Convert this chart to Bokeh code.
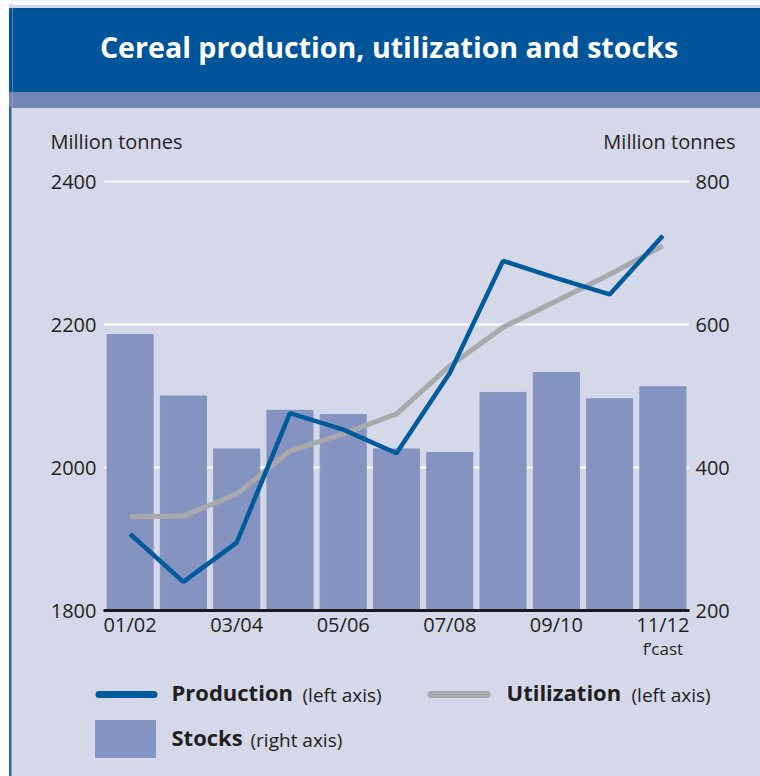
from bokeh.plotting import figure
from bokeh.models import Range1d, LinearAxis, FixedTicker
from bokeh.layouts import column, row
from bokeh.embed import file_html
from bokeh.resources import INLINE
from bokeh.core.properties import value

# ---------------- data ----------------
seasons = ["01/02", "02/03", "03/04", "04/05", "05/06", "06/07",
           "07/08", "08/09", "09/10", "10/11", "11/12"]
production = [1907, 1840, 1895, 2076, 2053, 2020, 2132, 2289, 2265, 2242, 2324]
utilization = [1931, 1932, 1963, 2023, 2047, 2075, 2142, 2196, 2233, 2270, 2310]
stocks = [586, 500, 426, 480, 474, 426, 421, 505, 533, 496, 513]
left_ticks = [1800, 2000, 2200, 2400]
right_ticks = [200, 400, 600, 800]
x_tick_labels = ["01/02", "03/04", "05/06", "07/08", "09/10", "11/12"]
forecast_note = "f\u2019cast"
title_text = "Cereal production, utilization and stocks"
axis_unit = "Million tonnes"
legend_names = ["Production", "Utilization", "Stocks"]
legend_notes = ["(left axis)", "(left axis)", "(right axis)"]

# ---------------- style ----------------
FONT = "Open Sans"
TXT = "#231f20"
BG = "#d5d8e9"
TITLE_BG = "#00559a"
STRIP = "#7584b6"
BAR = "#8593c0"
BLUE = "#005a9c"
GREY = "#a7a9ab"
EDGE = "#2a66ad"

xs = [i + 0.5 for i in range(len(seasons))]


def plain(w, h, x0, y0, bg):
    f = figure(width=w, height=h, x_range=Range1d(x0, x0 + w),
               y_range=Range1d(y0 + h, y0), x_axis_type=None, y_axis_type=None,
               output_backend="svg", toolbar_location=None, title=None,
               min_border=0, background_fill_color=bg, border_fill_color=bg,
               outline_line_color=None, frame_align=False)
    return f


# ---------------- left edge strip ----------------
side = plain(12, 776, 0, 0, "white")
side.quad(left=[9, 9, 9, 9, 11.5], right=[12, 12, 12, 11.5, 12],
          top=[4, 8, 92, 107, 107], bottom=[8, 92, 107, 776, 776],
          color=[BG, TITLE_BG, STRIP, EDGE, BG])

# ---------------- title bar + unit labels ----------------
t = plain(748, 165, 12, 0, BG)
t.quad(left=[12, 12, 12], right=[760, 760, 760], top=[0, 8, 92],
       bottom=[4, 92, 107], color=["white", TITLE_BG, STRIP])
t.text(x=[388.5], y=[46], text=[title_text], text_font=value(FONT),
       text_font_style="bold", text_font_size="28.6px", text_color="white",
       text_align="center", text_baseline="middle")
t.text(x=[50], y=[141], text=[axis_unit], text_font=value(FONT),
       text_font_size="20px", text_color=TXT, text_align="left",
       text_baseline="middle")
t.text(x=[735], y=[141], text=[axis_unit], text_font=value(FONT),
       text_font_size="20px", text_color=TXT, text_align="right",
       text_baseline="middle")

# ---------------- main chart ----------------
p = figure(width=748, height=500, x_range=Range1d(0, len(seasons)),
           y_range=Range1d(left_ticks[0], left_ticks[-1] + 1.4),
           output_backend="svg", toolbar_location=None, title=None,
           min_border_left=91, min_border_right=71, min_border_top=15,
           min_border_bottom=55, background_fill_color=BG,
           border_fill_color=BG, outline_line_color=None, frame_align=False)
p.extra_y_ranges = {"right": Range1d(right_ticks[0], right_ticks[-1] + 1.4)}

p.xgrid.visible = False
p.ygrid.ticker = FixedTicker(ticks=left_ticks)
p.ygrid.grid_line_color = "white"
p.ygrid.grid_line_width = 2

yl = p.yaxis[0]
yl.ticker = FixedTicker(ticks=left_ticks)
yr = LinearAxis(y_range_name="right", ticker=FixedTicker(ticks=right_ticks))
p.add_layout(yr, "right")
for ax, so in ((yl, 7), (yr, 6)):
    ax.axis_line_color = None
    ax.major_tick_line_color = None
    ax.minor_tick_line_color = None
    ax.major_tick_out = 0
    ax.major_tick_in = 0
    ax.major_label_standoff = so
    ax.major_label_text_font = FONT
    ax.major_label_text_font_size = "20px"
    ax.major_label_text_color = TXT

xa = p.xaxis[0]
tick_pos = [seasons.index(s) + 0.5 for s in x_tick_labels]
xa.ticker = FixedTicker(ticks=tick_pos)
xa.major_label_overrides = {pos: lab for pos, lab in zip(tick_pos, x_tick_labels)}
xa.axis_line_color = "#1a1a1a"
xa.axis_line_width = 3
xa.major_label_text_font_size = "20px"
xa.major_label_standoff = 0

fpos = xs[-1]
xf = LinearAxis(ticker=FixedTicker(ticks=[fpos]),
                major_label_overrides={fpos: forecast_note})
xf.axis_line_color = None
xf.major_label_text_font_size = "17px"
xf.major_label_standoff = -4
p.add_layout(xf, "below")
for ax in (xa, xf):
    ax.major_tick_line_color = None
    ax.minor_tick_line_color = None
    ax.major_tick_out = 0
    ax.major_tick_in = 0
    ax.major_label_text_font = FONT
    ax.major_label_text_color = TXT

p.vbar(x=xs, width=0.865, bottom=right_ticks[0], top=stocks,
       y_range_name="right", color=BAR)
p.line(xs, utilization, line_color=GREY, line_width=5)
p.line(xs, production, line_color=BLUE, line_width=4.5)

# ---------------- legend ----------------
lg = plain(748, 111, 12, 665, BG)
lg.segment(x0=[98.5, 430.5], y0=[694, 694], x1=[153.5, 486.5], y1=[694, 694],
           line_color=[BLUE, GREY], line_width=7, line_cap="round")
lg.quad(left=[95], right=[155], top=[720], bottom=[757], color=BAR)
lg.text(x=[171, 506, 171], y=[691, 691, 736], text=legend_names,
        text_font=value(FONT), text_font_style="bold", text_font_size="22px",
        text_color=TXT, text_align="left", text_baseline="middle")
lg.text(x=[302, 631, 250], y=[694, 694, 739], text=legend_notes,
        text_font=value(FONT), text_font_size="19px", text_color=TXT,
        text_align="left", text_baseline="middle")

layout = row(side, column(t, p, lg, spacing=0,
                          styles={"background-color": BG}),
             spacing=0)
open("out.html", "w").write(file_html(layout, INLINE))
